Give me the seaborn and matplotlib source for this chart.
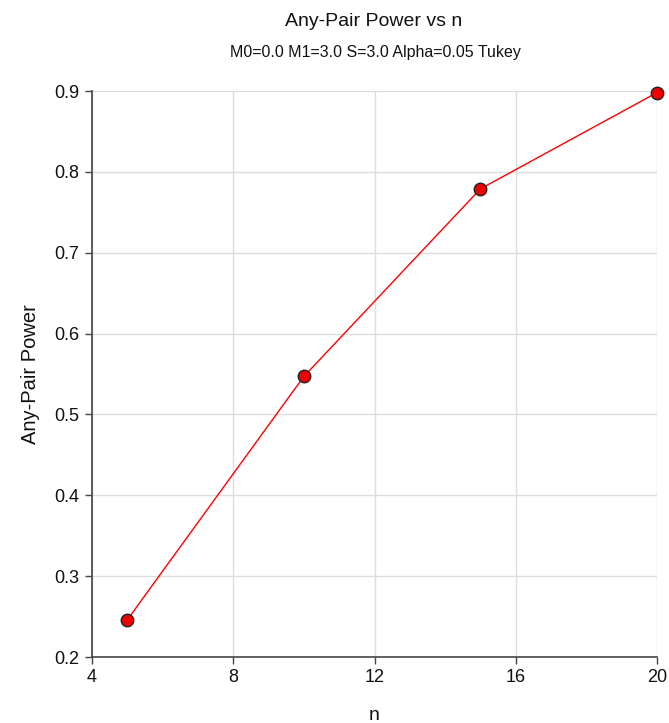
import matplotlib
matplotlib.use("Agg")
import matplotlib.pyplot as plt
import seaborn as sns
import pandas as pd

n_values = [5, 10, 15, 20]
power_values = [0.246, 0.547, 0.779, 0.898]
x_ticks = [4, 8, 12, 16, 20]
y_ticks = [0.2, 0.3, 0.4, 0.5, 0.6, 0.7, 0.8, 0.9]

sns.set_style("white")
plt.rcParams['font.family'] = ['Liberation Sans', 'DejaVu Sans']

df = pd.DataFrame({"n": n_values, "power": power_values})

fig = plt.figure(figsize=(6.69, 7.23), dpi=100)
ax = fig.add_axes([92/669, 1-657/723, (657-92)/669, (657-91)/723])

sns.lineplot(data=df, x="n", y="power", ax=ax, color="#ff0000", linewidth=1,
             marker="o", markersize=9, markerfacecolor="#ee0000",
             markeredgecolor="#222222", markeredgewidth=1, clip_on=False, zorder=3)

ax.set_xlim(4, 20)
ax.set_ylim(0.2, 0.9)
ax.set_xticks(x_ticks)
ax.set_yticks(y_ticks)
ax.set_xticklabels([str(t) for t in x_ticks])
ax.set_yticklabels([f"{t:.1f}" for t in y_ticks])
ax.grid(True, color="#dddddd", linewidth=1)
ax.set_axisbelow(True)
for s in ["top", "right"]:
    ax.spines[s].set_visible(False)
for s in ["left", "bottom"]:
    ax.spines[s].set_color("#444444")
    ax.spines[s].set_linewidth(1.2)
ax.tick_params(axis="both", which="major", direction="out", length=5, width=1,
               color="#444444", labelsize=13, labelcolor="#111111", pad=4,
               bottom=True, left=True)

ax.set_xlabel("n", fontsize=14, labelpad=15, color="#111111")
ax.set_ylabel("Any-Pair Power", fontsize=14.5, labelpad=10, color="#111111")

fig.text(374/669, 1-22/723, "Any-Pair Power vs n", ha="center", va="center", fontsize=14, color="#111111")
fig.text(375/669, 1-53/723, "M0=0.0 M1=3.0 S=3.0 Alpha=0.05 Tukey", ha="center", va="center", fontsize=11.5, color="#111111")

fig.savefig("out.png", dpi=100)
